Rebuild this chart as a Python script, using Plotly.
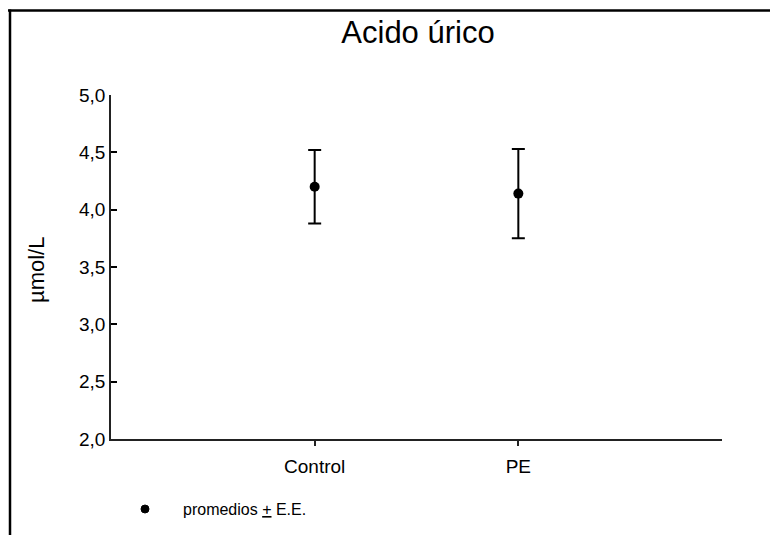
import plotly.graph_objects as go

# Data
groups = ["Control", "PE"]
group_pos = [1, 2]
means = [4.20, 4.14]
se = [0.32, 0.39]
y_ticks = [2.0, 2.5, 3.0, 3.5, 4.0, 4.5, 5.0]
title_text = "Acido úrico"
y_label = "µmol/L"
legend_text = "promedios <u>+</u> E.E."

W, H = 770, 535
L, R, T, B = 111, 48, 95, 96
pw, ph = W - L - R, H - T - B

def px_x(p):
    return (p - L) / pw

def px_y(p):
    return (H - B - p) / ph

FONT = "Arial, Liberation Sans, sans-serif"

fig = go.Figure()
fig.add_trace(go.Scatter(
    x=group_pos, y=means, mode="markers",
    marker=dict(color="black", size=10),
    error_y=dict(type="data", array=se, visible=True, color="black",
                 thickness=2, width=6.5),
    showlegend=False,
))

fig.update_layout(
    width=W, height=H,
    margin=dict(l=L, r=R, t=T, b=B, autoexpand=False),
    paper_bgcolor="white", plot_bgcolor="white",
    separators=",.",
    font=dict(family=FONT, color="black"),
    xaxis=dict(range=[0, 3], tickvals=group_pos, ticktext=groups,
               showgrid=False, zeroline=False, showline=True,
               linecolor="#222", linewidth=1.5, ticks="outside",
               ticklen=5, tickwidth=1.5, tickcolor="#222",
               ticklabelstandoff=4,
               tickfont=dict(size=19, family=FONT), fixedrange=True),
    yaxis=dict(range=[2, 5], tickvals=y_ticks, tickformat=".1f",
               showgrid=False, zeroline=False, showline=True,
               linecolor="#222", linewidth=1.5, ticks="inside",
               ticklen=6, tickwidth=1.5, tickcolor="black",
               ticksuffix="\u00a0\u00a0", layer="above traces",
               tickfont=dict(size=19, family=FONT), fixedrange=True),
    title=dict(text=title_text, x=px_x(418), xref="paper",
               y=1 - 32 / H, yref="container", xanchor="center",
               yanchor="middle", font=dict(size=31, family=FONT)),
)

# y-axis title
fig.add_annotation(text=y_label, x=px_x(36), y=px_y(270), xref="paper",
                   yref="paper", textangle=-90, showarrow=False,
                   font=dict(size=22, family=FONT), xanchor="center",
                   yanchor="middle")

# legend-like note
fig.add_shape(type="circle", xref="paper", yref="paper",
              xsizemode="pixel", ysizemode="pixel",
              xanchor=px_x(145), yanchor=px_y(509),
              x0=-4, x1=4, y0=-4, y1=4,
              fillcolor="black", line=dict(color="black", width=1))
fig.add_annotation(text=legend_text, x=px_x(181), y=px_y(509),
                   xref="paper", yref="paper", showarrow=False,
                   xanchor="left", yanchor="middle",
                   font=dict(size=16, family=FONT))

# outer frame lines (top and left)
fig.add_shape(type="line", xref="paper", yref="paper",
              x0=px_x(8), x1=px_x(771), y0=px_y(10.5), y1=px_y(10.5),
              line=dict(color="black", width=2.5))
fig.add_shape(type="line", xref="paper", yref="paper",
              x0=px_x(10), x1=px_x(10), y0=px_y(9.5), y1=px_y(540),
              line=dict(color="black", width=2.5))

fig.write_html("out.html")
